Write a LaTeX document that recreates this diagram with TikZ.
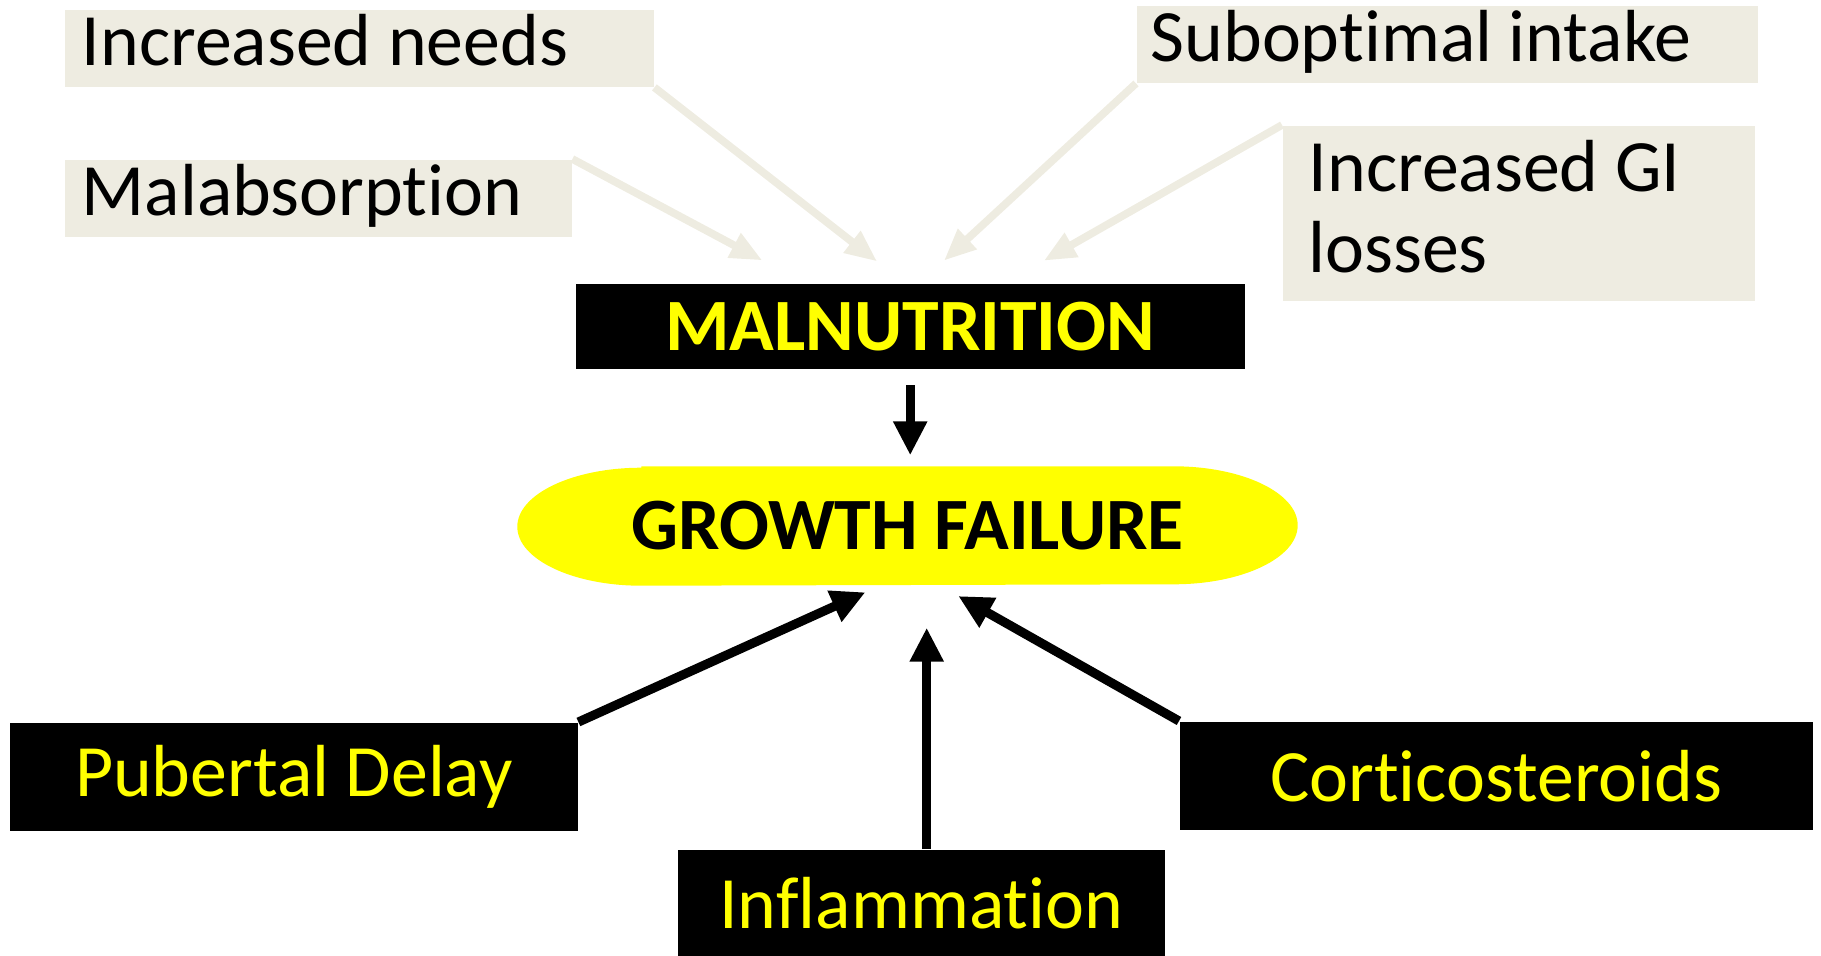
\documentclass[tikz,border=0pt]{standalone}
\usepackage{fontspec}
\setmainfont{Carlito}[Ligatures=CommonOff]
\usepackage{tikz}
\usetikzlibrary{arrows.meta,backgrounds}
\definecolor{tanbg}{RGB}{238,236,225}
\definecolor{hiyellow}{RGB}{255,255,0}

\begin{document}
\begin{tikzpicture}[
    font=\fontsize{21}{23}\selectfont,
    cause/.style={rectangle, fill=tanbg, anchor=north west, inner xsep=0.17cm, inner ysep=0pt, align=flush left},
    oneline/.style={text height=0.55cm, text depth=0.2cm, minimum height=0.77cm},
    factor/.style={rectangle, fill=black, text=hiyellow, anchor=north west, inner sep=0pt, align=center},
    feed/.style={-{Triangle[length=0.32cm, width=0.26cm]}, draw=tanbg, line width=2.2pt},
    push/.style={-{Triangle[length=0.34cm, width=0.32cm]}, draw=black, line width=2.6pt}
]
\useasboundingbox (0,0) rectangle (18.21,-9.55);

% Contributing causes
\node[cause, oneline, text width=5.55cm] (needs) at (0.64,-0.09) {Increased needs};
\node[cause, oneline, text width=4.73cm] (malabs) at (0.64,-1.59) {Malabsorption};
\node[cause, oneline, text width=5.93cm, inner xsep=0.14cm] (intake) at (11.36,-0.05) {Suboptimal intake};
\node[cause, text width=4.20cm, minimum height=1.75cm, inner xsep=0.26cm] (losses) at (12.82,-1.25) {Increased GI\\losses\rule[-0.14cm]{0pt}{0.14cm}};

% Malnutrition and growth failure
\node[factor, minimum width=6.69cm, minimum height=0.85cm, font=\fontsize{21}{23}\selectfont\bfseries] (malnut) at (5.75,-2.83) {MALNUTRITION};
\node[minimum width=7.79cm, minimum height=1.18cm, inner sep=0pt, font=\fontsize{21}{23}\selectfont\bfseries] (growth) at (9.075,-5.26) {GROWTH FAILURE};
\begin{scope}[on background layer]
  \fill[hiyellow] ([xshift=1.24cm]growth.north west) -- ([xshift=-1.24cm]growth.north east)
    arc[start angle=90, end angle=-90, x radius=1.24cm, y radius=0.59cm]
    -- ([xshift=1.24cm]growth.south west)
    arc[start angle=270, end angle=90, x radius=1.24cm, y radius=0.59cm] -- cycle;
\end{scope}

% Other factors
\node[factor, minimum width=5.68cm, minimum height=1.08cm] (puberty) at (0.09,-7.22) {Pubertal Delay};
\node[factor, minimum width=4.87cm, minimum height=1.06cm] (inflam) at (6.77,-8.49) {Inflammation};
\node[factor, minimum width=6.33cm, minimum height=1.08cm] (steroids) at (11.79,-7.21) {Corticosteroids};

\draw[feed, shorten >=0.35cm] (needs.south east) -- ([xshift=-0.055cm]malnut.north);
\draw[feed, shorten >=0.48cm] (malabs.north east) -- ([xshift=-1.055cm]malnut.north);
\draw[feed, shorten >=0.33cm] (intake.south west) -- ([xshift=0.095cm]malnut.north);
\draw[feed, shorten >=0.45cm] (losses.north west) -- ([xshift=0.945cm]malnut.north);

\draw[push, shorten <=0.16cm, shorten >=0.11cm] (malnut.south) -- (malnut.south |- growth.north);
\draw[push, shorten >=0.16cm] (puberty.north east) -- ([xshift=-0.275cm]growth.south);
\draw[push, shorten >=0.42cm] ([xshift=0.055cm]inflam.north) -- ([xshift=0.055cm]inflam.north |- growth.south);
\draw[push, shorten >=0.21cm] (steroids.north west) -- ([xshift=0.325cm]growth.south);
\end{tikzpicture}
\end{document}
